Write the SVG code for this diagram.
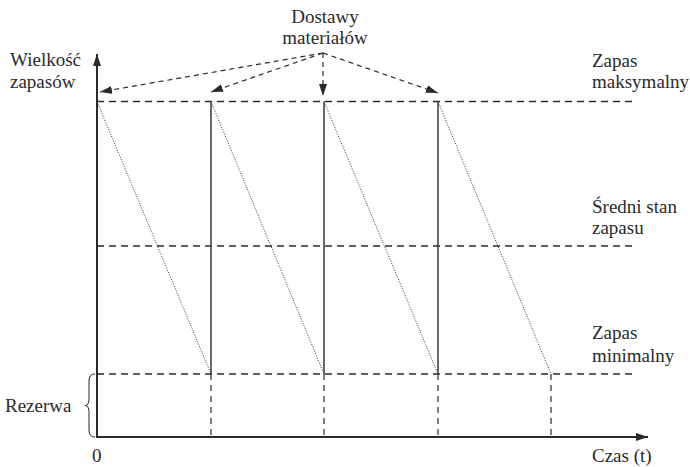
<svg xmlns="http://www.w3.org/2000/svg" width="690" height="467" viewBox="0 0 690 467">
  <style>
    .lbl { font-family: 'Liberation Serif', 'DejaVu Serif', 'Noto Serif', serif; font-size: 19px; fill: #2a2a2a; }
    .axis { stroke: #2a2a2a; stroke-width: 2; fill: none; }
    .level { stroke: #2a2a2a; stroke-width: 1.6; stroke-dasharray: 7 5; fill: none; }
    .drop { stroke: #2a2a2a; stroke-width: 1.2; stroke-dasharray: 6 5; fill: none; }
    .refill { stroke: #444; stroke-width: 1.6; fill: none; }
    .usage { stroke: #333; stroke-width: 1; stroke-dasharray: 1 1.5; fill: none; }
    .delivery { stroke: #2a2a2a; stroke-width: 1.2; stroke-dasharray: 5 4; fill: none; }
  </style>
  <defs>
    <marker id="axisHead" viewBox="0 0 12 8" refX="12" refY="4" markerWidth="12" markerHeight="8" markerUnits="userSpaceOnUse" orient="auto">
      <path d="M0,0 L12,4 L0,8 Z" fill="#2a2a2a"/>
    </marker>
    <marker id="deliveryHead" viewBox="0 0 12 8" refX="12" refY="4" markerWidth="12" markerHeight="8" markerUnits="userSpaceOnUse" orient="auto">
      <path d="M0,0 L12,4 L0,8 Z" fill="#2a2a2a"/>
    </marker>
  </defs>

  <!-- stock levels -->
  <g id="levels">
    <line class="level" x1="97" y1="101.5" x2="636" y2="101.5"/>
    <line class="level" x1="97" y1="246" x2="636" y2="246"/>
    <line class="level" x1="97" y1="374" x2="636" y2="374"/>
  </g>

  <!-- sawtooth: consumption and replenishment -->
  <g id="sawtooth">
    <line class="usage" x1="97" y1="101.5" x2="211" y2="374"/>
    <line class="usage" x1="211" y1="101.5" x2="324" y2="374"/>
    <line class="usage" x1="324" y1="101.5" x2="438" y2="374"/>
    <line class="usage" x1="438" y1="101.5" x2="551" y2="374"/>
    <line class="refill" x1="211" y1="101.5" x2="211" y2="374"/>
    <line class="refill" x1="324" y1="101.5" x2="324" y2="374"/>
    <line class="refill" x1="438" y1="101.5" x2="438" y2="374"/>
    <line class="drop" x1="211" y1="374" x2="211" y2="437"/>
    <line class="drop" x1="324" y1="374" x2="324" y2="437"/>
    <line class="drop" x1="438" y1="374" x2="438" y2="437"/>
    <line class="drop" x1="551" y1="374" x2="551" y2="437"/>
  </g>

  <!-- axes -->
  <g id="axes">
    <line class="axis" x1="97" y1="437" x2="97" y2="54" marker-end="url(#axisHead)"/>
    <line class="axis" x1="96" y1="437" x2="648" y2="437" marker-end="url(#axisHead)"/>
  </g>

  <!-- delivery arrows -->
  <g id="connectors">
    <line class="delivery" x1="323" y1="53" x2="100" y2="92" marker-end="url(#deliveryHead)"/>
    <line class="delivery" x1="323" y1="53" x2="211" y2="92" marker-end="url(#deliveryHead)"/>
    <line class="delivery" x1="323" y1="53" x2="323" y2="96" marker-end="url(#deliveryHead)"/>
    <line class="delivery" x1="323" y1="53" x2="438" y2="93" marker-end="url(#deliveryHead)"/>
  </g>

  <!-- reserve brace -->
  <g id="reserve">
    <path d="M95,374 Q89,374 89,381 L89,399 Q89,405.5 85,405.5 Q89,405.5 89,412 L89,430 Q89,437 95,437" fill="none" stroke="#2a2a2a" stroke-width="1"/>
    <text class="lbl" x="5" y="412">Rezerwa</text>
  </g>

  <g id="label-y">
    <text class="lbl" x="10" y="66">Wielkość</text>
    <text class="lbl" x="10" y="88">zapasów</text>
  </g>
  <g id="label-deliveries">
    <text class="lbl" x="325" y="23" text-anchor="middle">Dostawy</text>
    <text class="lbl" x="325" y="44" text-anchor="middle">materiałów</text>
  </g>
  <g id="label-max">
    <text class="lbl" x="592" y="67">Zapas</text>
    <text class="lbl" x="592" y="88">maksymalny</text>
  </g>
  <g id="label-avg">
    <text class="lbl" x="592" y="213">Średni stan</text>
    <text class="lbl" x="592" y="234">zapasu</text>
  </g>
  <g id="label-min">
    <text class="lbl" x="592" y="339">Zapas</text>
    <text class="lbl" x="592" y="362">minimalny</text>
  </g>
  <g id="label-x">
    <text class="lbl" x="92" y="462">0</text>
    <text class="lbl" x="592" y="462">Czas (t)</text>
  </g>
</svg>
